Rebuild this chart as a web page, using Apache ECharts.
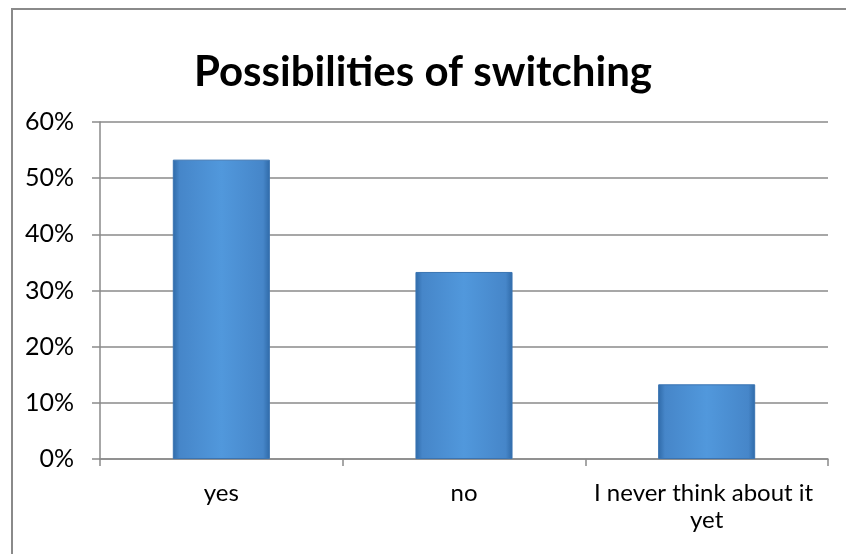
<!DOCTYPE html>
<html><head><meta charset="utf-8">
<script src="https://cdn.jsdelivr.net/npm/echarts@6/dist/echarts.min.js"></script>
<style>html,body{margin:0;padding:0;background:#fff}#c{width:846px;height:554px}</style>
</head><body><div id="c"></div>
<script>
const categories = ['yes', 'no', 'I never think about it yet'];
const values = [53.3, 33.3, 13.3];
const yTicks = [0, 10, 20, 30, 40, 50, 60];

const chart = echarts.init(document.getElementById('c'));
const font = 'Lato, "Open Sans", sans-serif';
chart.setOption({
  animation: false,
  backgroundColor: '#ffffff',
  graphic: [{
    type: 'rect', silent: true, z: -1,
    shape: { x: 12, y: 9, width: 900, height: 700 },
    style: { fill: 'none', stroke: '#8a8a8a', lineWidth: 2 }
  }],
  title: {
    text: 'Possibilities of switching',
    left: 'center', top: 46,
    textStyle: { fontFamily: font, fontWeight: 'bold', fontSize: 42, color: '#000' }
  },
  grid: { left: 100, right: 18, top: 122, bottom: 95 },
  xAxis: {
    type: 'category', data: categories,
    axisLine: { lineStyle: { color: '#8a8a8a', width: 1.5 } },
    axisTick: { show: true, length: 7, alignWithLabel: false, lineStyle: { color: '#8a8a8a', width: 1.5 } },
    axisLabel: { fontFamily: font, fontSize: 24, color: '#000', margin: 21, lineHeight: 27,
      width: 236, overflow: 'break', interval: 0 }
  },
  yAxis: {
    type: 'value', min: yTicks[0], max: yTicks[yTicks.length - 1], interval: 10,
    axisLine: { show: true, lineStyle: { color: '#8a8a8a', width: 1.5 } },
    axisTick: { show: true, length: 8, lineStyle: { color: '#8a8a8a', width: 1.5 } },
    axisLabel: { fontFamily: font, fontSize: 25, color: '#000', margin: 26, formatter: '{value}%' },
    splitLine: { lineStyle: { color: '#8a8a8a', width: 1.5 } }
  },
  series: [{
    type: 'bar', data: values, barWidth: '40%',
    itemStyle: {
      color: new echarts.graphic.LinearGradient(0, 0, 1, 0, [
        { offset: 0, color: '#2f6aa8' },
        { offset: 0.07, color: '#4686c9' },
        { offset: 0.5, color: '#5198dc' },
        { offset: 0.93, color: '#4686c9' },
        { offset: 1, color: '#2f6aa8' }
      ]),
      borderColor: '#3a74b2', borderWidth: 1
    }
  }]
});
</script></body></html>
